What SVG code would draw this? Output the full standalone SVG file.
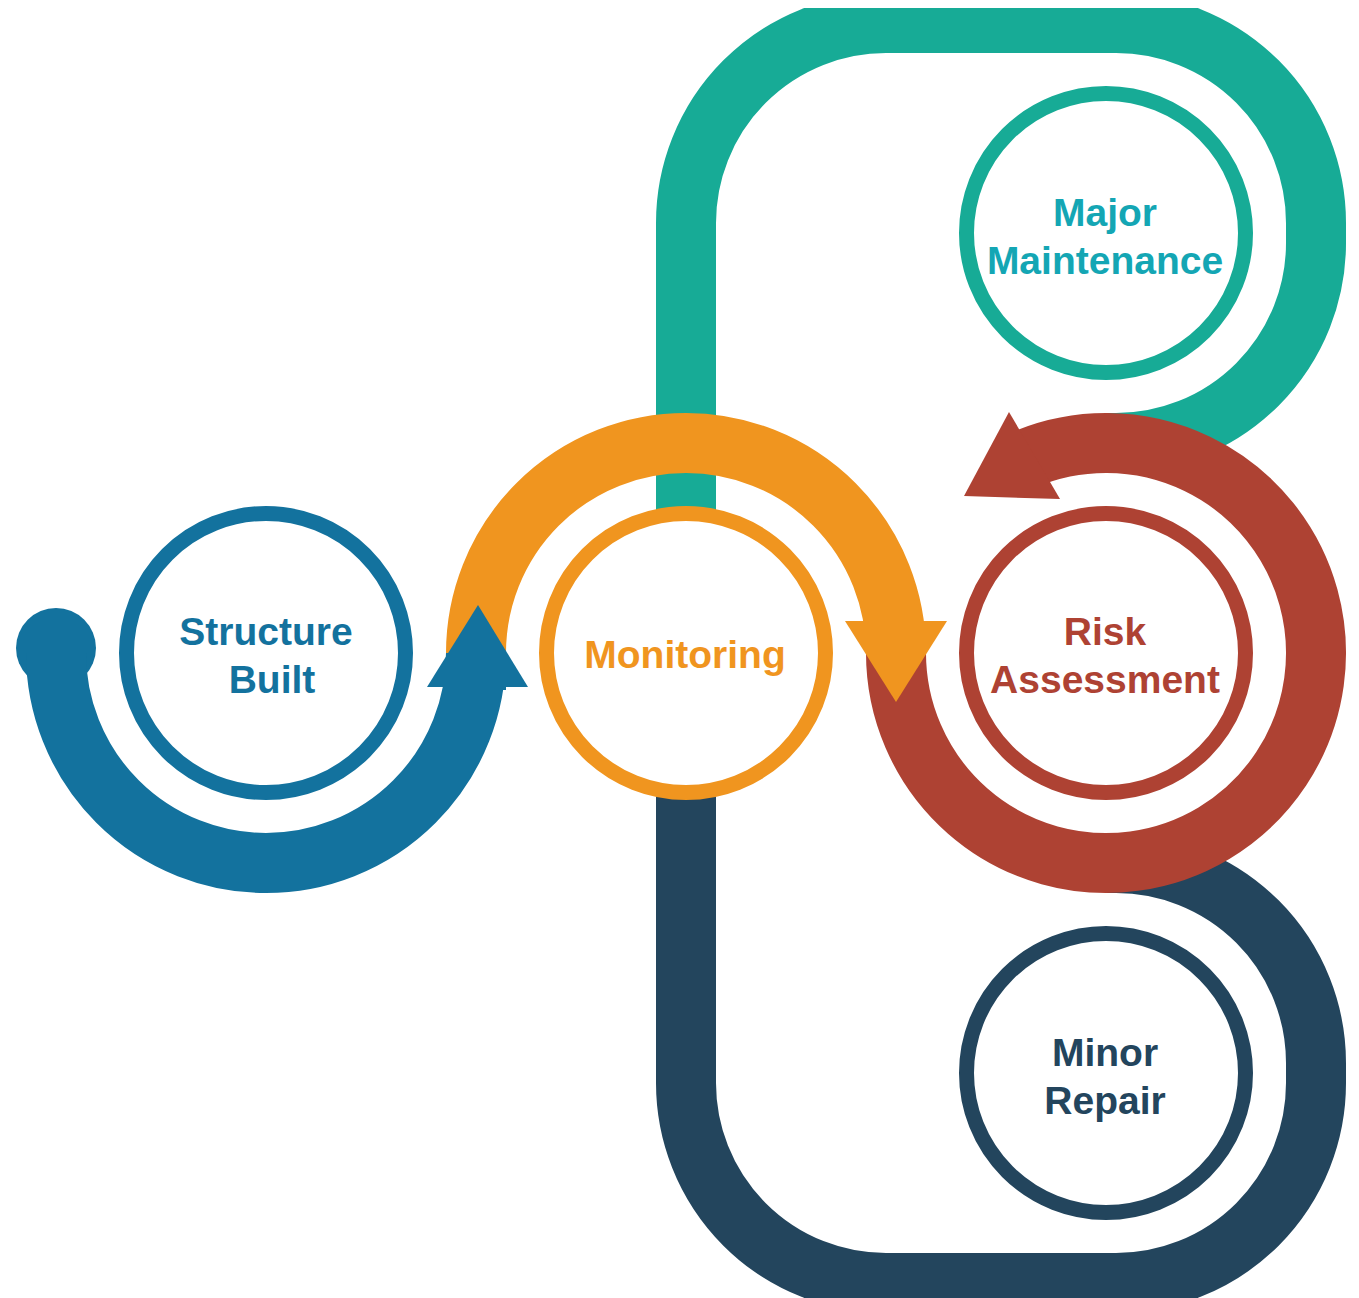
<svg xmlns="http://www.w3.org/2000/svg" width="1359" height="1298" viewBox="0 0 1359 1298">
<style>
.band{fill:none;stroke-width:60;stroke-linecap:butt}
.ring{fill:#fff;stroke-width:15}
.lbl{font-family:"Liberation Sans",Arial,sans-serif;font-weight:bold;font-size:39px;text-anchor:middle}
</style>
<defs>
<clipPath id="topclip"><rect x="0" y="8" width="1359" height="1290"/></clipPath>
</defs>
<g id="connectors">
<path class="band" stroke="#17AB96" clip-path="url(#topclip)" d="M686,520 V223 A200,200 0 0 1 886,23 H1116 A200,200 0 0 1 1316,223 V243 A200,200 0 0 1 1116,443 H1106"/>
<path class="band" stroke="#23455D" d="M686,786 V1083 A200,200 0 0 0 886,1283 H1116 A200,200 0 0 0 1316,1083 V1063 A200,200 0 0 0 1116,863 H1106"/>
<g id="red-arrow" fill="#AE4233">
<path class="band" stroke="#AE4233" d="M896,653 A210,210 0 1 0 1023.95,459.7"/>
<polygon points="1009,412 964,496 1060,499"/>
</g>
<g id="orange-arrow" fill="#F0951F">
<path class="band" stroke="#F0951F" d="M476,653 A210,210 0 0 1 896,653"/>
<polygon points="845,621 947,621 896,702"/>
</g>
<g id="blue-arrow" fill="#13729E">
<circle cx="56" cy="648" r="40"/>
<path class="band" stroke="#13729E" d="M56,653 A210,210 0 0 0 476,653 V690"/>
<polygon points="427,687 528,687 478,605"/>
</g>
</g>
<g id="structure-built">
<circle class="ring" cx="266" cy="653" r="139.5" stroke="#13729E"/>
<text class="lbl" fill="#13729E"><tspan x="266" y="645">Structure</tspan><tspan x="272" y="693">Built</tspan></text>
</g>
<g id="monitoring">
<circle class="ring" cx="686" cy="653" r="139.5" stroke="#F0951F"/>
<text class="lbl" fill="#F0951F" x="685" y="668">Monitoring</text>
</g>
<g id="risk-assessment">
<circle class="ring" cx="1106" cy="653" r="139.5" stroke="#AE4233"/>
<text class="lbl" fill="#AE4233"><tspan x="1105" y="645">Risk</tspan><tspan x="1105" y="693">Assessment</tspan></text>
</g>
<g id="major-maintenance">
<circle class="ring" cx="1106" cy="233" r="139.5" stroke="#17AB96"/>
<text class="lbl" fill="#14A6B4"><tspan x="1105" y="226">Major</tspan><tspan x="1105" y="274">Maintenance</tspan></text>
</g>
<g id="minor-repair">
<circle class="ring" cx="1106" cy="1073" r="139.5" stroke="#23455D"/>
<text class="lbl" fill="#23455D"><tspan x="1105" y="1066">Minor</tspan><tspan x="1105" y="1114">Repair</tspan></text>
</g>
</svg>
